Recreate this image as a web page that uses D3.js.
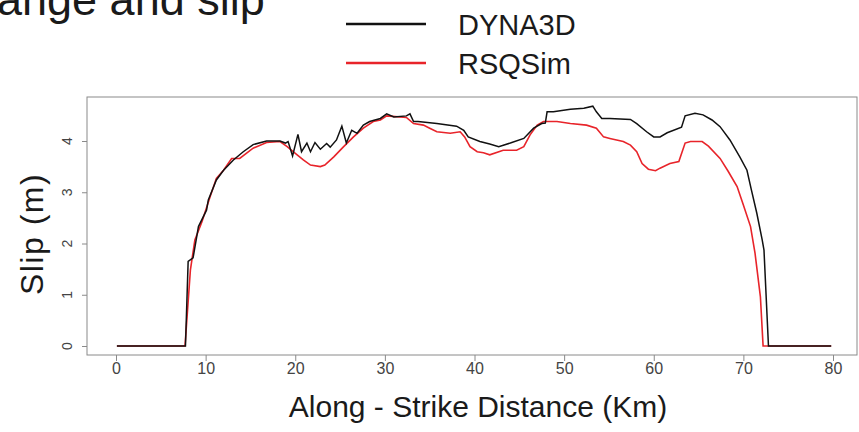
<html>
<head>
	<script src="https://d3js.org/d3.v7.min.js"></script>
	<style>
		body { margin: 0; background: #fff; }
		text { font-family: "Liberation Sans", Arial, Helvetica, sans-serif; }
	</style>
</head>
<body>
	<script>
		// along-strike distance (km) and slip (m)
		var dynaKm = [0.1, 7.75, 8.05, 8.6, 9.2, 10.1, 10.3, 11.2, 12.0, 13.1, 14.2, 15.3, 16.8, 18.3, 18.9, 19.2, 19.7, 20.3, 20.7, 21.3, 21.7, 22.2, 22.8, 23.5, 23.9, 24.6, 25.2, 25.7, 26.3, 26.9, 27.6, 28.3, 29.5, 30.2, 31.0, 32.4, 32.8, 33.2, 33.7, 35.8, 38.0, 38.8, 39.3, 40.6, 41.7, 42.7, 44.0, 45.5, 46.6, 47.5, 47.9, 48.1, 48.8, 50.7, 52.2, 53.2, 53.6, 54.2, 55.1, 57.4, 58.1, 59.2, 60.0, 60.7, 61.5, 63.1, 63.5, 64.6, 65.5, 66.5, 67.4, 68.5, 69.6, 70.4, 70.9, 71.5, 72.1, 72.3, 72.8, 79.8];
		var dynaSlip = [0, 0, 1.65, 1.72, 2.33, 2.65, 2.85, 3.24, 3.43, 3.63, 3.79, 3.93, 4.0, 4.0, 3.96, 3.99, 3.71, 4.13, 3.79, 3.96, 3.79, 3.97, 3.84, 3.95, 3.88, 4.02, 4.29, 3.96, 4.21, 4.15, 4.31, 4.38, 4.44, 4.53, 4.47, 4.49, 4.53, 4.38, 4.38, 4.34, 4.29, 4.21, 4.08, 3.99, 3.94, 3.89, 3.96, 4.05, 4.25, 4.34, 4.35, 4.57, 4.57, 4.62, 4.64, 4.68, 4.57, 4.44, 4.44, 4.42, 4.34, 4.18, 4.08, 4.08, 4.16, 4.27, 4.49, 4.54, 4.51, 4.41, 4.28, 4.02, 3.69, 3.43, 3.04, 2.59, 2.07, 1.87, 0, 0];

		var rsqKm = [0.1, 7.7, 8.3, 8.8, 9.6, 10.5, 11.2, 12.0, 12.9, 13.8, 15.3, 16.8, 18.3, 19.1, 19.8, 20.9, 21.7, 22.8, 23.3, 24.3, 25.4, 26.5, 27.6, 28.7, 29.5, 30.2, 32.4, 33.2, 34.3, 35.0, 35.8, 37.3, 38.4, 38.9, 39.5, 40.3, 41.0, 41.7, 43.2, 44.7, 45.5, 46.2, 47.0, 47.7, 49.2, 50.7, 52.5, 53.6, 54.4, 55.1, 56.6, 57.4, 58.1, 58.7, 59.4, 60.2, 60.7, 61.8, 62.8, 63.5, 64.1, 65.4, 66.1, 67.4, 68.3, 69.3, 70.0, 70.8, 71.3, 71.9, 72.2, 79.8];
		var rsqSlip = [0, 0, 1.48, 2.07, 2.43, 2.91, 3.27, 3.43, 3.66, 3.66, 3.86, 3.97, 3.99, 3.89, 3.79, 3.63, 3.53, 3.50, 3.53, 3.69, 3.89, 4.08, 4.25, 4.38, 4.41, 4.49, 4.46, 4.34, 4.31, 4.25, 4.18, 4.15, 4.18, 4.08, 3.89, 3.79, 3.77, 3.73, 3.82, 3.82, 3.89, 4.12, 4.31, 4.38, 4.38, 4.34, 4.31, 4.25, 4.08, 4.05, 3.99, 3.92, 3.79, 3.56, 3.45, 3.42, 3.47, 3.56, 3.60, 3.96, 3.99, 3.99, 3.90, 3.66, 3.41, 3.11, 2.75, 2.33, 1.81, 0.96, 0, 0];

		var xTicks = [0, 10, 20, 30, 40, 50, 60, 70, 80];
		var yTicks = [0, 1, 2, 3, 4];
		var seriesNames = ["DYNA3D", "RSQSim"];
		var seriesColors = ["#111111", "#e8242a"];

		var w = 859;
		var h = 432;
		var box = {left: 87, right: 857, top: 97, bottom: 355};

		var svg = d3.select("body").append("svg").attr("width", w).attr("height", h);

		var xScale = d3.scaleLinear().domain([0, 80]).range([116, 833]);
		var yScale = d3.scaleLinear().domain([0, 4]).range([346, 141]);

		// slide title, cut by the top edge as in the source
		svg.append("text").attr("x", -3).attr("y", 15)
			.attr("font-size", 45).attr("fill", "#1a1a1a")
			.text("ange and slip");

		// legend
		seriesNames.forEach(function(name, i){
			var ly = [24, 63][i];
			svg.append("line").attr("x1", 346).attr("x2", 426).attr("y1", ly).attr("y2", ly)
				.attr("stroke", seriesColors[i]).attr("stroke-width", 2.5);
			svg.append("text").attr("x", 458).attr("y", ly + 11)
				.attr("font-size", 29).attr("fill", "#1a1a1a").text(name);
		});

		// plot box
		svg.append("rect").attr("x", box.left).attr("y", box.top)
			.attr("width", box.right - box.left).attr("height", box.bottom - box.top)
			.attr("fill", "none").attr("stroke", "#8a8a8a").attr("stroke-width", 1);

		// x axis
		var xAxis = d3.axisBottom(xScale).tickValues(xTicks).tickSize(6).tickPadding(2);
		var gx = svg.append("g").attr("transform", "translate(0," + box.bottom + ")").call(xAxis);
		gx.select(".domain").remove();
		gx.selectAll("line").attr("stroke", "#8a8a8a");
		gx.selectAll("text").attr("font-size", 16).attr("fill", "#444")
			.style("font-family", "'Liberation Sans', Arial, sans-serif");

		// y axis, R style rotated labels
		var yAxis = d3.axisLeft(yScale).tickValues(yTicks).tickSize(5).tickFormat("");
		var gy = svg.append("g").attr("transform", "translate(" + box.left + ",0)").call(yAxis);
		gy.select(".domain").remove();
		gy.selectAll("line").attr("stroke", "#8a8a8a");
		svg.selectAll(".ylab").data(yTicks).enter().append("text")
			.attr("class", "ylab")
			.attr("transform", function(d){ return "translate(72," + yScale(d) + ") rotate(-90)"; })
			.attr("text-anchor", "middle")
			.attr("font-size", 14).attr("fill", "#444")
			.text(function(d){ return d; });

		// axis titles
		svg.append("text").attr("x", 478).attr("y", 417).attr("text-anchor", "middle")
			.attr("font-size", 30).attr("fill", "#1a1a1a")
			.text("Along - Strike Distance (Km)");
		svg.append("text").attr("transform", "translate(43,234) rotate(-90)")
			.attr("text-anchor", "middle").attr("font-size", 32).attr("fill", "#1a1a1a")
			.attr("letter-spacing", 1.5)
			.text("Slip (m)");

		// lines
		var line = d3.line()
			.x(function(d){ return xScale(d[0]); })
			.y(function(d){ return yScale(d[1]); });

		var dyna = d3.zip(dynaKm, dynaSlip);
		var rsq = d3.zip(rsqKm, rsqSlip);

		svg.append("path").datum(rsq).attr("d", line)
			.attr("fill", "none").attr("stroke", seriesColors[1]).attr("stroke-width", 1.6);
		svg.append("path").datum(dyna).attr("d", line)
			.attr("fill", "none").attr("stroke", seriesColors[0]).attr("stroke-width", 1.5);
	</script>
</body>
</html>
